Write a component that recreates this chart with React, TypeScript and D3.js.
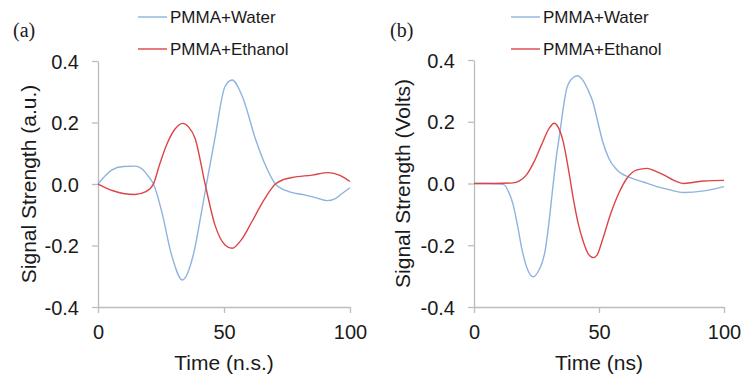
import { useEffect, useRef } from "react"
import * as d3 from "d3"

const C = { water: "#8fb2df", ethanol: "#dc4448", axis: "#bdbdbd", text: "#1a1a1a" }

const xTicks = [0, 50, 100]
const yTicks = [-0.4, -0.2, 0.0, 0.2, 0.4]
const legendLabels = ["PMMA+Water", "PMMA+Ethanol"]

// panel (a)
const waterA_t = [0, 5.4, 10, 14.7, 18, 20.6, 22, 25.3, 29.2, 33.5, 37.8, 41.1, 43.5, 46.4, 50.4, 53.2, 57.5, 62.4, 66.5, 70.4, 75.7, 82.3, 87, 90.9, 94, 97, 100]
const waterA_v = [0, 0.045, 0.057, 0.058, 0.045, 0.018, 0, -0.09, -0.231, -0.312, -0.231, -0.09, 0.02, 0.149, 0.317, 0.338, 0.28, 0.149, 0.06, 0, -0.025, -0.036, -0.046, -0.054, -0.048, -0.03, -0.012]
const ethA_t = [0, 6, 10, 14.7, 19, 22, 24.5, 27.2, 30.5, 33.5, 36, 38.5, 42.5, 46.4, 50.4, 53.2, 57, 61.1, 66, 70.4, 73.5, 77, 84.9, 91.5, 96, 100]
const ethA_v = [0, -0.022, -0.031, -0.034, -0.025, 0, 0.065, 0.127, 0.178, 0.197, 0.185, 0.149, 0, -0.133, -0.198, -0.209, -0.18, -0.122, -0.05, 0, 0.014, 0.021, 0.029, 0.037, 0.028, 0.008]

// panel (b)
const waterB_t = [0, 6, 11.7, 14, 15.7, 17.5, 19.1, 21.5, 23.7, 26, 27.3, 28.4, 30, 31.7, 33, 34.4, 35.8, 37.1, 39, 41.3, 43.5, 45.5, 47.7, 49.5, 51.5, 54, 57.2, 62.5, 68, 73.2, 78, 83.9, 91.9, 100]
const waterB_v = [0, 0, -0.003, -0.03, -0.07, -0.14, -0.21, -0.28, -0.302, -0.28, -0.255, -0.22, -0.125, 0, 0.09, 0.168, 0.25, 0.308, 0.338, 0.349, 0.335, 0.305, 0.26, 0.2, 0.135, 0.08, 0.044, 0.019, 0.004, -0.01, -0.02, -0.029, -0.024, -0.01]
const ethB_t = [0, 8, 15.7, 18, 21, 24, 27, 30, 32.1, 33.8, 35.7, 37.7, 39.7, 41.7, 43.7, 45.7, 47.7, 49.2, 51.5, 54.5, 58, 61.2, 65.2, 69.2, 72.5, 75.9, 80, 83.9, 88, 91.9, 100]
const ethB_v = [0, 0, 0.002, 0.008, 0.028, 0.07, 0.125, 0.178, 0.195, 0.18, 0.135, 0.05, -0.048, -0.13, -0.188, -0.228, -0.24, -0.232, -0.18, -0.102, -0.03, 0.017, 0.044, 0.049, 0.04, 0.028, 0.01, 0, 0.004, 0.008, 0.01]

const zip = (t: number[], v: number[]) => t.map((d, i) => [d, v[i]] as [number, number])

interface PanelCfg {
  tag: string; yLabel: string; xLabel: string
  x0: number; x1: number; yTop: number; yBot: number
  tagX: number; yLabelX: number; legX: number
  water: [number, number][]; ethanol: [number, number][]
}

const panels: PanelCfg[] = [
  { tag: "(a)", yLabel: "Signal Strength (a.u.)", xLabel: "Time (n.s.)", x0: 98, x1: 350, yTop: 61, yBot: 307,
    tagX: 13, yLabelX: 29, legX: 138, water: zip(waterA_t, waterA_v), ethanol: zip(ethA_t, ethA_v) },
  { tag: "(b)", yLabel: "Signal Strength (Volts)", xLabel: "Time (ns)", x0: 474, x1: 724, yTop: 60, yBot: 307,
    tagX: 390, yLabelX: 403, legX: 511, water: zip(waterB_t, waterB_v), ethanol: zip(ethB_t, ethB_v) },
]

export default function App() {
  const ref = useRef<SVGSVGElement>(null)
  useEffect(() => {
    if (!ref.current) return
    const root = d3.select(ref.current)
    root.selectAll("*").remove()
    const sans = "'Liberation Sans', Arial, sans-serif"

    panels.forEach(p => {
      const x = d3.scaleLinear().domain([0, 100]).range([p.x0, p.x1])
      const y = d3.scaleLinear().domain([-0.4, 0.4]).range([p.yBot, p.yTop])
      const g = root.append("g")

      g.append("g").attr("transform", `translate(0,${p.yBot})`)
        .call(d3.axisBottom(x).tickValues(xTicks).tickSize(6).tickSizeOuter(0).tickFormat(d3.format("d")))
        .call(a => {
          a.select(".domain").style("stroke", C.axis).style("stroke-width", 1.3)
          a.selectAll("line").style("stroke", C.axis).style("stroke-width", 1.3)
          a.selectAll("text").attr("y", 25).attr("dy", "0.35em").style("fill", C.text).style("font-size", "20px").style("font-family", sans)
        })
      g.append("g").attr("transform", `translate(${p.x0},0)`)
        .call(d3.axisLeft(y).tickValues(yTicks).tickSize(6).tickSizeOuter(0).tickFormat(d3.format(".1f")))
        .call(a => {
          a.select(".domain").style("stroke", C.axis).style("stroke-width", 1.3)
          a.selectAll("line").style("stroke", C.axis).style("stroke-width", 1.3)
          a.selectAll("text").attr("x", -19).attr("dy", "0.35em").text(d => d3.format(".1f")(d as number).replace("−", "-"))
            .style("fill", C.text).style("font-size", "20px").style("font-family", sans)
        })

      const line = d3.line<[number, number]>().x(d => x(d[0])).y(d => y(d[1])).curve(d3.curveMonotoneX)
      g.append("path").datum(p.water).attr("d", line).attr("fill", "none").attr("stroke", C.water).attr("stroke-width", 1.4)
      g.append("path").datum(p.ethanol).attr("d", line).attr("fill", "none").attr("stroke", C.ethanol).attr("stroke-width", 1.4)

      g.append("text").attr("x", (p.x0 + p.x1) / 2).attr("y", 363).attr("dy", "0.35em").attr("text-anchor", "middle")
        .style("fill", C.text).style("font-size", "21px").style("font-family", sans).text(p.xLabel)
      g.append("text").attr("transform", `translate(${p.yLabelX},${(p.yTop + p.yBot) / 2}) rotate(-90)`).attr("dy", "0.35em")
        .attr("text-anchor", "middle").style("fill", C.text).style("font-size", "21px").style("font-family", sans).text(p.yLabel)
      g.append("text").attr("x", p.tagX).attr("y", 37).style("fill", C.text).style("font-size", "20px")
        .style("font-family", "'Liberation Serif', 'Times New Roman', serif").text(p.tag)

      const legColors = [C.water, C.ethanol]
      legendLabels.forEach((lab, i) => {
        const ly = 17 + i * 32
        g.append("line").attr("x1", p.legX).attr("x2", p.legX + 29).attr("y1", ly).attr("y2", ly)
          .attr("stroke", legColors[i]).attr("stroke-width", 1.4)
        g.append("text").attr("x", p.legX + 32).attr("y", ly).attr("dy", "0.35em")
          .style("fill", C.text).style("font-size", "17px").style("font-family", sans).text(lab)
      })
    })
  }, [])
  return <svg ref={ref} width={747} height={382} style={{ position: "absolute", left: 0, top: 0, display: "block", background: "#fff" }} />
}
